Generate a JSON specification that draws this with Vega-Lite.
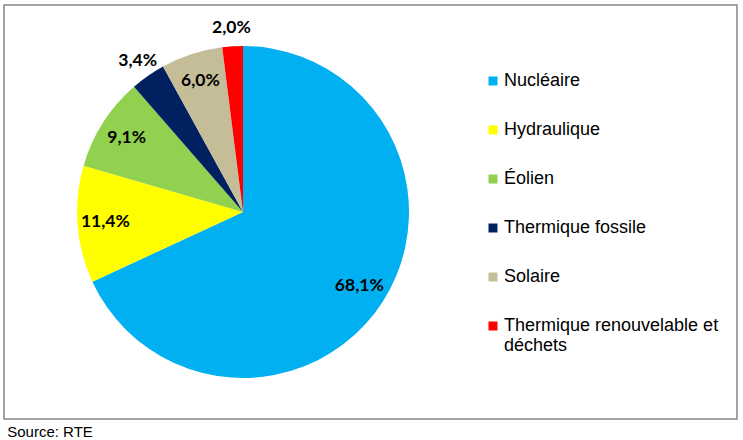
{
  "$schema": "https://vega.github.io/schema/vega-lite/v6.json",
  "width": 733,
  "height": 414,
  "autosize": {"type": "none"},
  "padding": {"left": 4, "top": 5, "right": 6, "bottom": 21},
  "background": "white",
  "title": {
    "text": "Source: RTE",
    "orient": "bottom",
    "anchor": "start",
    "font": "Liberation Sans Narrow, Liberation Sans",
    "fontSize": 15,
    "fontWeight": "normal",
    "color": "black",
    "offset": 3,
    "dx": 6
  },
  "config": {"view": {"stroke": "#868686", "strokeWidth": 1.5}},
  "data": {
    "values": [
      {"source": "Nucléaire", "value": 68.1, "label": "68,1%", "rank": 1},
      {"source": "Hydraulique", "value": 11.4, "label": "11,4%", "rank": 2},
      {"source": "Éolien", "value": 9.1, "label": "9,1%", "rank": 3},
      {"source": "Thermique fossile", "value": 3.4, "label": "3,4%", "rank": 4},
      {"source": "Solaire", "value": 6.0, "label": "6,0%", "rank": 5},
      {"source": "Thermique renouvelable et déchets", "value": 2.0, "label": "2,0%", "rank": 6}
    ]
  },
  "layer": [
    {
      "mark": {"type": "point", "opacity": 0},
      "encoding": {
        "x": {"datum": 0, "type": "quantitative", "axis": null, "scale": {"domain": [0, 1]}},
        "y": {"datum": 0, "type": "quantitative", "axis": null, "scale": {"domain": [0, 1]}}
      }
    },
    {
      "mark": {"type": "arc", "x": 239, "y": 207, "outerRadius": 166},
      "encoding": {
        "theta": {"field": "value", "type": "quantitative", "stack": true},
        "order": {"field": "rank", "type": "quantitative"},
        "color": {
          "field": "source",
          "type": "nominal",
          "scale": {
            "domain": ["Nucléaire", "Hydraulique", "Éolien", "Thermique fossile", "Solaire", "Thermique renouvelable et déchets"],
            "range": ["#00B0F0", "#FFFF00", "#92D050", "#002060", "#C4BD97", "#FF0000"]
          },
          "legend": {
            "title": null,
            "orient": "none",
            "legendX": 480,
            "legendY": 67,
            "symbolType": "square",
            "symbolSize": 81,
            "symbolStrokeWidth": 0,
            "labelFont": "Liberation Sans",
            "labelFontSize": 18,
            "labelColor": "black",
            "labelOffset": 2,
            "labelLimit": 300,
            "rowPadding": 31,
            "padding": 0,
            "labelExpr": "datum.label == 'Thermique renouvelable et déchets' ? ['Thermique renouvelable et', 'déchets'] : datum.label"
          }
        }
      }
    },
    {
      "mark": {"type": "text", "x": 239, "y": 207, "radius": 138, "font": "Lato", "fontWeight": "bold", "fontSize": 17.5, "color": "black"},
      "encoding": {
        "theta": {"field": "value", "type": "quantitative", "stack": true},
        "order": {"field": "rank", "type": "quantitative"},
        "text": {"condition": {"test": "datum.value >= 5", "field": "label"}, "value": ""}
      }
    },
    {
      "mark": {"type": "text", "x": 239, "y": 207, "radius": 184, "font": "Lato", "fontWeight": "bold", "fontSize": 17.5, "color": "black"},
      "encoding": {
        "theta": {"field": "value", "type": "quantitative", "stack": true},
        "order": {"field": "rank", "type": "quantitative"},
        "text": {"condition": {"test": "datum.value < 5", "field": "label"}, "value": ""}
      }
    }
  ]
}
